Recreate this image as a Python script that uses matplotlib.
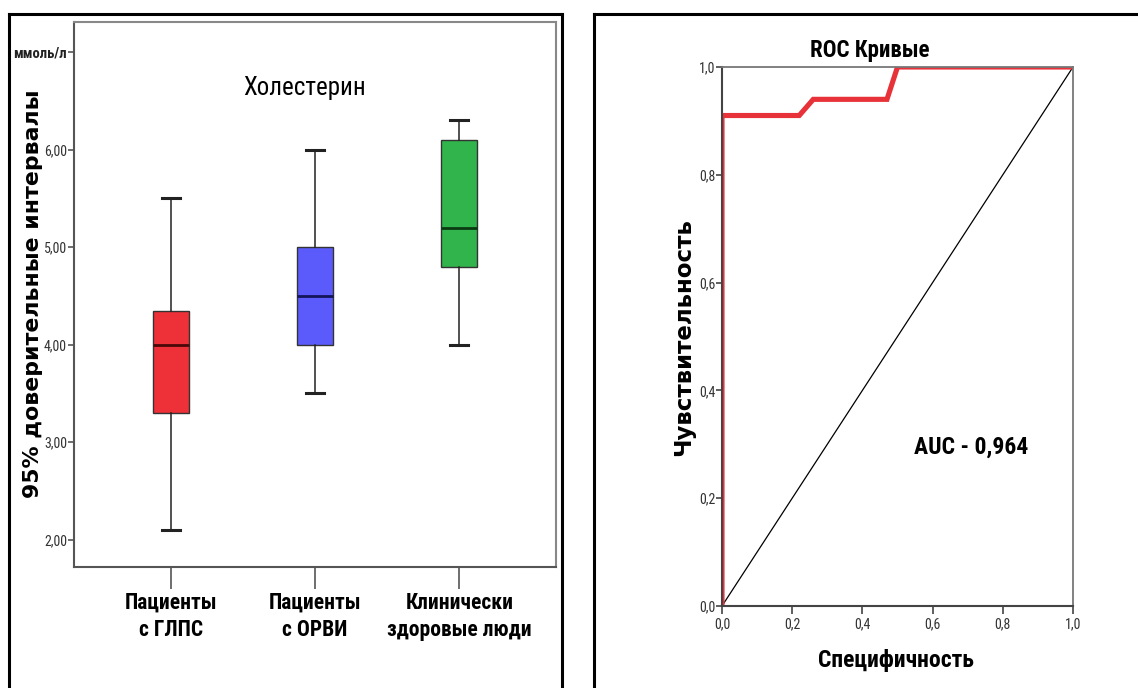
import os
import matplotlib
matplotlib.use("Agg")
import matplotlib.pyplot as plt
from matplotlib import font_manager as fm
from matplotlib.font_manager import FontProperties
from matplotlib.lines import Line2D

# ---------------- data ----------------
groups = ['Пациенты\nс ГЛПС', 'Пациенты\nс ОРВИ', 'Клинически\nздоровые люди']
whis_lo = [2.1, 3.5, 4.0]
q1 = [3.3, 4.0, 4.8]
medians = [4.0, 4.5, 5.2]
q3 = [4.35, 5.0, 6.1]
whis_hi = [5.5, 6.0, 6.3]
box_colors = ['#ee3139', '#5b5bfb', '#31b44b']
median_colors = ['#4a0808', '#14145a', '#0a3a12']

ytick_vals = [2, 3, 4, 5, 6, 7]
ytick_labels = ['2,00', '3,00', '4,00', '5,00', '6,00', 'ммоль/л']

roc_x = [0.0, 0.0, 0.22, 0.26, 0.47, 0.50, 1.0]
roc_y = [0.0, 0.91, 0.91, 0.94, 0.94, 1.0, 1.0]
diag_x = [0.0, 1.0]
diag_y = [0.0, 1.0]
roc_ticks = [0.0, 0.2, 0.4, 0.6, 0.8, 1.0]
roc_ticklabels = ['0,0', '0,2', '0,4', '0,6', '0,8', '1,0']
auc_text = 'AUC - 0,964'

# ---------------- fonts ----------------
files = {os.path.basename(f.fname).lower(): f.fname for f in fm.fontManager.ttflist}


def pick(candidates):
    for c in candidates:
        for k, v in files.items():
            if k.startswith(c):
                return v
    return None


NB = pick(['liberationsansnarrow-bold.', 'arialnarrow-bold', 'arialnb',
           'robotocondensed-bold.', 'notosans-condensedbold.',
           'opensans-condensedbold', 'opensanscondensed-bold'])
NR = pick(['liberationsansnarrow-regular.', 'arialnarrow.', 'arialn.',
           'robotocondensed-regular.', 'notosans-condensed.',
           'opensans-condensedregular', 'opensanscondensed-light'])
NARROW_OK = NB is not None and NR is not None
LB = pick(['liberationsans-bold.'])
LR = pick(['liberationsans-regular.'])
DB = pick(['dejavusans-bold.'])


def fp(kind, size):
    if kind == 'nb':
        if NARROW_OK:
            return FontProperties(fname=NB, size=size)
        return FontProperties(fname=LB, size=size * 0.8) if LB else FontProperties(weight='bold', size=size * 0.8)
    if kind == 'nr':
        if NARROW_OK:
            return FontProperties(fname=NR, size=size)
        return FontProperties(fname=LR, size=size * 0.8) if LR else FontProperties(size=size * 0.8)
    if kind == 'wb':
        return FontProperties(fname=DB, size=size) if DB else FontProperties(weight='bold', size=size)


W, H = 1138, 688
fig = plt.figure(figsize=(W / 100, H / 100), dpi=100)


def fx(px):
    return px / W


def fy(py):
    return 1 - py / H


def line(x0, y0, x1, y1, lw=2.2, color='black'):
    fig.add_artist(Line2D([fx(x0), fx(x1)], [fy(y0), fy(y1)],
                          transform=fig.transFigure, color=color, lw=lw))


# panel borders
line(9, 14, 562, 14)
line(9, 14, 9, 690)
line(562, 14, 562, 690)
line(594, 14, 1140, 14)
line(594, 14, 594, 690)

# ---------------- left: boxplot ----------------
axL = fig.add_axes([fx(74), fy(567), fx(556) - fx(74), fy(22) - fy(567)])
stats = []
for i in range(len(groups)):
    stats.append(dict(whislo=whis_lo[i], q1=q1[i], med=medians[i],
                      q3=q3[i], whishi=whis_hi[i], fliers=[]))
positions = list(range(1, len(groups) + 1))
bp = axL.bxp(stats, positions=positions, widths=0.25, capwidths=0.125,
             patch_artist=True, showfliers=False,
             whiskerprops=dict(color='#222222', lw=1.1),
             capprops=dict(color='#222222', lw=2.2),
             boxprops=dict(edgecolor='#333333', lw=1.0))
for i, patch in enumerate(bp['boxes']):
    patch.set_facecolor(box_colors[i])
for i, m in enumerate(bp['medians']):
    m.set_color(median_colors[i])
    m.set_linewidth(2.0)

axL.set_xlim(0.33, 3.67)
axL.set_ylim(1.72, 7.31)
axL.set_yticks(ytick_vals)
axL.set_yticklabels(ytick_labels)
for lab in axL.get_yticklabels():
    lab.set_fontproperties(fp('nr', 10))
    lab.set_color('#333333')
axL.get_yticklabels()[-1].set_fontproperties(fp('nb', 10.5))
axL.get_yticklabels()[-1].set_color('#222222')
axL.tick_params(axis='y', length=4, width=1.2, color='#555555', pad=1)
axL.set_xticks(positions)
axL.set_xticklabels(groups, linespacing=1.3)
for lab in axL.get_xticklabels():
    lab.set_fontproperties(fp('nb', 15.5))
axL.tick_params(axis='x', length=16, width=1.2, color='#555555', pad=2)
for s in ['left', 'bottom']:
    axL.spines[s].set_color('#555555')
    axL.spines[s].set_linewidth(1.5)
for s in ['top', 'right']:
    axL.spines[s].set_color('#888888')
    axL.spines[s].set_linewidth(1.5)
axL.text(0.478, 0.878, 'Холестерин', transform=axL.transAxes, ha='center',
         va='center', fontproperties=fp('nr', 18))
fig.text(fx(33), fy(294), '95% доверительные интервалы', rotation=90,
         ha='center', va='center', fontproperties=fp('wb', 15.8))

# ---------------- right: ROC ----------------
axR = fig.add_axes([fx(722), fy(606), fx(1073) - fx(722), fy(67) - fy(606)])
axR.plot(diag_x, diag_y, color='black', lw=0.9)
axR.plot(roc_x, roc_y, color='#e8323a', lw=3.7, solid_joinstyle='miter')
axR.set_xlim(0, 1)
axR.set_ylim(0, 1)
axR.set_xticks(roc_ticks)
axR.set_xticklabels(roc_ticklabels)
axR.set_yticks(roc_ticks)
axR.set_yticklabels(roc_ticklabels)
for lab in axR.get_xticklabels() + axR.get_yticklabels():
    lab.set_fontproperties(fp('nr', 10))
    lab.set_color('#333333')
axR.tick_params(axis='y', length=4, width=1.2, color='#444444', pad=1)
axR.tick_params(axis='x', length=6, width=1.2, color='#444444', pad=2)
for s in ['left', 'bottom']:
    axR.spines[s].set_color('#444444')
    axR.spines[s].set_linewidth(1.5)
for s in ['top', 'right']:
    axR.spines[s].set_color('#777777')
    axR.spines[s].set_linewidth(1.3)
axR.text(0.71, 0.295, auc_text, transform=axR.transAxes, ha='center',
         va='center', fontproperties=fp('nb', 17))
fig.text(fx(870), fy(51), 'ROC Кривые', ha='center', va='center',
         fontproperties=fp('nb', 16.5))
fig.text(fx(896), fy(660), 'Специфичность', ha='center', va='center',
         fontproperties=fp('nb', 17))
fig.text(fx(684), fy(337), 'Чувствительность', rotation=90, ha='center',
         va='center', fontproperties=fp('wb', 16.5))

fig.savefig('out.png', dpi=100)
